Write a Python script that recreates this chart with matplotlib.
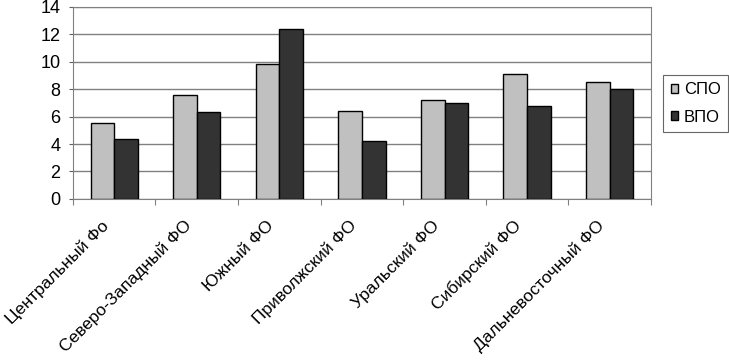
import matplotlib.pyplot as plt
import matplotlib.transforms as mtransforms
import numpy as np

plt.rcParams['font.family'] = ['Liberation Sans', 'DejaVu Sans']

regions = ["Центральный Фо", "Северо-Западный ФО", "Южный ФО", "Приволжский ФО",
           "Уральский ФО", "Сибирский ФО", "Дальневосточный ФО"]
spo = [5.5, 7.6, 9.8, 6.4, 7.2, 9.1, 8.5]
vpo = [4.4, 6.3, 12.4, 4.2, 7.0, 6.8, 8.0]

fig = plt.figure(figsize=(7.29, 3.61), dpi=100)
ax = fig.add_axes([0.1, 0.449, 0.793, 0.532])

x = np.arange(len(regions))
w = 0.286
ax.bar(x - w/2, spo, w, color='#c0c0c0', edgecolor='black', linewidth=1, label='СПО', zorder=3)
ax.bar(x + w/2, vpo, w, color='#333333', edgecolor='black', linewidth=1, label='ВПО', zorder=3)

ax.set_ylim(0, 14)
ax.set_yticks(range(0, 15, 2))
ax.set_xlim(-0.5, len(regions) - 0.5)
ax.yaxis.grid(True, color='#808080', linewidth=1, zorder=0)

# category boundary ticks, labels centred on categories
ax.set_xticks(np.arange(-0.5, len(regions), 1.0))
ax.set_xticklabels([])
ax.set_xticks(x, minor=True)
ax.set_xticklabels(regions, minor=True, rotation=45, ha='right', va='center',
                   rotation_mode='anchor', fontsize=12.5)
ax.tick_params(axis='x', which='minor', length=0, pad=19)
ax.tick_params(axis='x', which='major', length=4, color='#808080')
ax.tick_params(axis='y', length=3, pad=6, labelsize=13, color='#606060')
shift = mtransforms.ScaledTranslation(-0.08, 0.02, fig.dpi_scale_trans)
for lab in ax.get_xticklabels(minor=True):
    lab.set_transform(lab.get_transform() + shift)

for s in ax.spines.values():
    s.set_color('#808080')

leg = ax.legend(loc='center left', bbox_to_anchor=(1.021, 0.497), frameon=True, fancybox=False,
                edgecolor='#404040', fontsize=12, handlelength=0.45, handleheight=0.45,
                handletextpad=0.35, borderpad=0.45, labelspacing=0.75, borderaxespad=0)
leg.get_frame().set_linewidth(0.8)

fig.savefig('out.png', dpi=100)
